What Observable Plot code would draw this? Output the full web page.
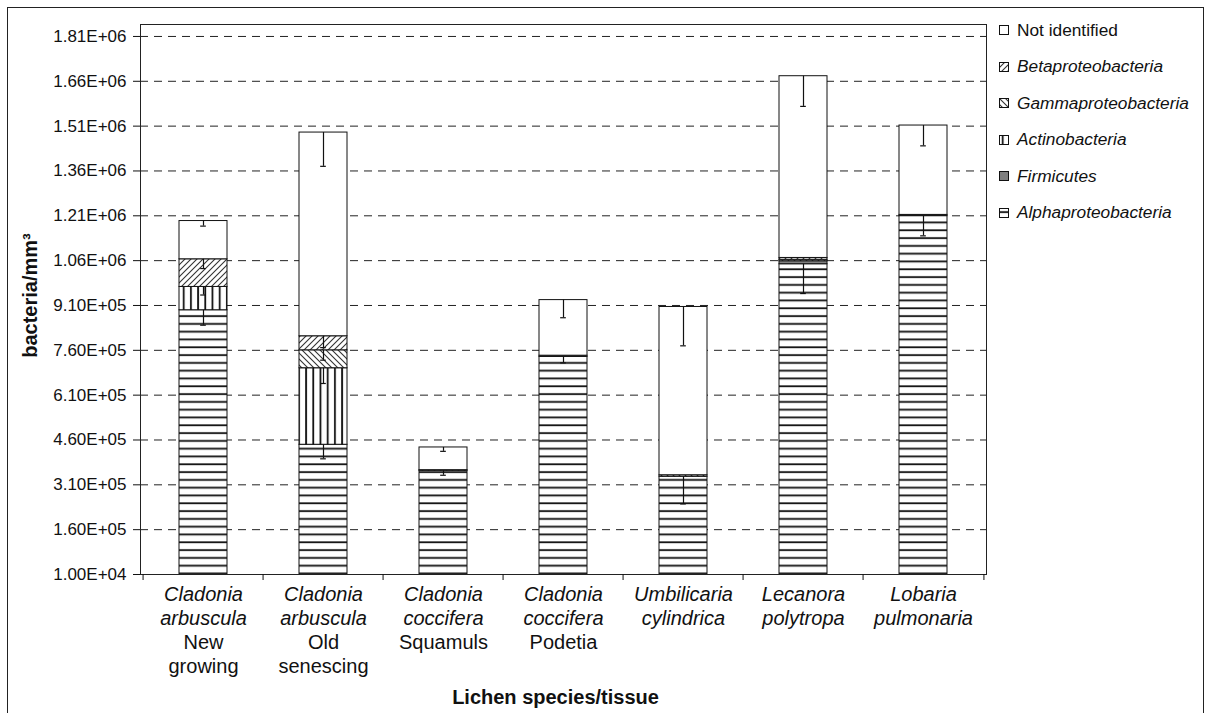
<!DOCTYPE html>
<html><head><meta charset="utf-8">
<script src="https://cdn.jsdelivr.net/npm/d3@7"></script>
<script src="https://cdn.jsdelivr.net/npm/@observablehq/plot@0.6"></script>
<style>
body{margin:0;background:#fff;font-family:"Liberation Sans",Arial,sans-serif;}
#wrap{position:relative;width:1207px;height:713px;overflow:hidden;background:#fff;}
#border{position:absolute;left:7px;top:7px;width:1197px;height:720px;border:1.5px solid #222;box-sizing:border-box;}
#chart{position:absolute;left:0;top:0;}
#legend{position:absolute;left:999px;top:12px;}
.item{display:flex;align-items:center;height:36.5px;font-size:17.3px;color:#111;white-space:nowrap;}
.item svg{margin-right:8px;flex:none;}
.it{font-style:italic;}
</style></head><body>
<svg width="0" height="0" style="position:absolute">
<defs>
 <pattern id="p-alpha" patternUnits="userSpaceOnUse" width="8" height="7.8"><rect width="8" height="7.8" fill="#fff"/><rect x="0" y="3.2" width="8" height="1.8" fill="#111"/></pattern>
 <pattern id="p-actino" patternUnits="userSpaceOnUse" width="7.2" height="8"><rect width="7.2" height="8" fill="#fff"/><rect x="2.8" y="0" width="1.8" height="8" fill="#111"/></pattern>
 <pattern id="p-beta" patternUnits="userSpaceOnUse" width="6" height="6"><rect width="6" height="6" fill="#fff"/><path d="M-1,1 L1,-1 M0,6 L6,0 M5,7 L7,5" stroke="#333" stroke-width="1.1"/></pattern>
 <pattern id="p-gamma" patternUnits="userSpaceOnUse" width="6" height="6"><rect width="6" height="6" fill="#fff"/><path d="M-1,5 L1,7 M0,0 L6,6 M5,-1 L7,1" stroke="#333" stroke-width="1.1"/></pattern>
</defs></svg>
<div id="wrap">
 <div id="border"></div>
 <div id="chart"></div>
 <div id="legend"></div>
</div>
<script>
// ---- data ----
const categories = ["Cladonia arbuscula New growing", "Cladonia arbuscula Old senescing", "Cladonia coccifera Squamuls", "Cladonia coccifera Podetia", "Umbilicaria cylindrica", "Lecanora polytropa", "Lobaria pulmonaria"];
const speciesLabels = ["Cladonia\narbuscula", "Cladonia\narbuscula", "Cladonia\ncoccifera", "Cladonia\ncoccifera", "Umbilicaria\ncylindrica", "Lecanora\npolytropa", "Lobaria\npulmonaria"];
const tissueLabels = ["New\ngrowing", "Old\nsenescing", "Squamuls", "Podetia", "", "", ""];
const seriesNames = ["Alphaproteobacteria", "Firmicutes", "Actinobacteria", "Gammaproteobacteria", "Betaproteobacteria", "Not identified"];

const alpha         = [894000, 444000, 357000, 738000, 337000, 1048000, 1209000];
const firmicutes    = [0, 0, 0, 4000, 0, 10000, 4000];
const actino        = [78000, 256000, 0, 0, 0, 0, 0];
const gamma         = [0, 60000, 2000, 0, 5000, 5000, 0];
const beta          = [92500, 47000, 0, 0, 0, 6000, 0];
const notIdentified = [128000, 681500, 76000, 186000, 563000, 608000, 299000];

const alphaErr = [50000, 47000, 15000, 20000, 91000, 98000, 66000];
const firmErr  = [0, 0, 0, 0, 0, 0, 0];
const actinoErr= [27000, 51000, 0, 0, 0, 0, 0];
const gammaErr = [0, 33000, 0, 0, 0, 0, 0];
const betaErr  = [31000, 38000, 0, 0, 0, 0, 0];
const niErr    = [17000, 113000, 13000, 59000, 130000, 101000, 68000];

const yTicks = [10000, 160000, 310000, 460000, 610000, 760000, 910000, 1060000, 1210000, 1360000, 1510000, 1660000, 1810000];
const yTickLabels = ["1.00E+04", "1.60E+05", "3.10E+05", "4.60E+05", "6.10E+05", "7.60E+05", "9.10E+05", "1.06E+06", "1.21E+06", "1.36E+06", "1.51E+06", "1.66E+06", "1.81E+06"];

const seriesFills = ["url(#p-alpha)", "#808080", "url(#p-actino)", "url(#p-gamma)", "url(#p-beta)", "#ffffff"];

// ---- build tables ----
const seriesValues = [alpha, firmicutes, actino, gamma, beta, notIdentified];
const seriesErrors = [alphaErr, firmErr, actinoErr, gammaErr, betaErr, niErr];
const rows = [], errRows = [];
categories.forEach((c, i) => {
  let cum = 0;
  seriesNames.forEach((s, j) => {
    const v = seriesValues[j][i];
    if (v > 0) rows.push({category: c, series: s, value: v});
    cum += v;
    const e = seriesErrors[j][i];
    if (v > 0 && e > 0) errRows.push({category: c, top: cum, low: cum - e});
  });
});

const W = 990, H = 713, mL = 140, mR = 4, mT = 24, mB = 139;
const step = (W - mL - mR) / categories.length;
const bandW = step * 0.4;
const capInset = (bandW - 6) / 2;

const plot = Plot.plot({
  width: W, height: H,
  marginLeft: mL, marginRight: mR, marginTop: mT, marginBottom: mB,
  style: {fontFamily: '"Liberation Sans", Arial, sans-serif', fontSize: "17px", color: "#111", background: "transparent", overflow: "visible"},
  x: {domain: categories, type: "band", paddingInner: 0.6, paddingOuter: 0.3, axis: null},
  y: {domain: [10000, 1850000], axis: null},
  color: {domain: seriesNames, range: seriesFills},
  marks: [
    Plot.gridY(yTicks.slice(1), {stroke: "#222", strokeOpacity: 1, strokeDasharray: "8,6"}),
    Plot.barY(rows, {x: "category", y: "value", fill: "series", stroke: "#111", strokeWidth: 1, clip: true}),
    Plot.ruleX(errRows, {x: "category", y1: "top", y2: "low", stroke: "#111", strokeWidth: 1.2}),
    Plot.tickY(errRows, {x: "category", y: "low", stroke: "#111", strokeWidth: 1.2, insetLeft: capInset, insetRight: capInset}),
    Plot.frame({stroke: "#222"}),
    Plot.axisY({ticks: yTicks, tickFormat: d => yTickLabels[yTicks.indexOf(d)], tickSize: 7, tickPadding: 7, fontSize: 17, label: null, stroke: "#111"}),
    Plot.tickX(categories, {x: d => d, dx: -step / 2, insetTop: H - mT - mB, insetBottom: -6, stroke: "#111"}),
    Plot.tickX([categories[categories.length - 1]], {x: d => d, dx: step / 2, insetTop: H - mT - mB, insetBottom: -6, stroke: "#111"}),
    Plot.text(categories, {x: d => d, text: (d, i) => speciesLabels[i], frameAnchor: "bottom", lineAnchor: "top", dy: 9, fontSize: 20, fontStyle: "italic", lineHeight: 1.2, fill: "#111"}),
    Plot.text(categories, {x: d => d, text: (d, i) => tissueLabels[i], frameAnchor: "bottom", lineAnchor: "top", dy: 57, fontSize: 20, lineHeight: 1.2, fill: "#111"}),
    Plot.text(["Lichen species/tissue"], {text: d => d, frameAnchor: "bottom", lineAnchor: "top", dy: 115, dx: -8, fontSize: 20, fontWeight: "bold", fill: "#111"}),
    Plot.text(["bacteria/mm³"], {text: d => d, frameAnchor: "left", textAnchor: "middle", dx: -110, dy: -4, rotate: -90, fontSize: 20, fontWeight: "bold", fill: "#111"})
  ]
});
document.getElementById("chart").appendChild(plot);

// ---- legend ----
const legendOrder = [5, 4, 3, 2, 1, 0];
const legend = document.getElementById("legend");
legendOrder.forEach(j => {
  const item = document.createElement("div");
  item.className = "item";
  item.innerHTML = `<svg width="10" height="10"><rect x="0.5" y="0.5" width="9" height="9" fill="${seriesFills[j]}" stroke="#111" stroke-width="1"/></svg><span class="${j === 5 ? "" : "it"}">${seriesNames[j]}</span>`;
  legend.appendChild(item);
});
</script>
</body></html>
